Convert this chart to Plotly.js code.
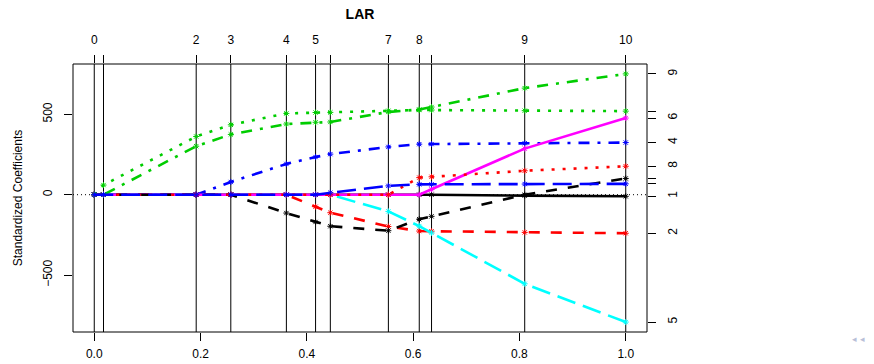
<!DOCTYPE html>
<html>
<head>
<meta charset="utf-8">
<script src="https://cdn.plot.ly/plotly-3.0.1.min.js"></script>
<style>html,body{margin:0;padding:0;background:#fff;}#chart{width:874px;height:364px;}</style>
</head>
<body>
<div id="chart"></div>
<script>
// |beta| / max|beta| at each LAR breakpoint
var stepFraction = [0, 0.0174, 0.1918, 0.2569, 0.3615, 0.4164, 0.4442, 0.5534, 0.6115, 0.6346, 0.8099, 1.0];
// degrees of freedom labels on the top axis (blank where R skipped an overlapping label)
var dfLabels = ['0', '', '2', '3', '4', '5', '', '7', '8', '', '9', '10'];

// standardized coefficients of each variable along the path
var coefAge = [0, 0, 0, 0, 0, 0, 0, 0, 0, 0, -5.72, -10.01];
var coefSex = [0, 0, 0, 0, 0, -74.92, -111.98, -197.76, -226.13, -227.18, -234.40, -239.82];
var coefBmi = [0, 60.12, 361.89, 434.76, 505.66, 511.35, 512.04, 522.26, 526.89, 526.39, 522.65, 519.84];
var coefBp  = [0, 0, 0, 79.24, 191.27, 234.15, 252.53, 297.16, 314.39, 314.95, 320.34, 324.39];
var coefS1  = [0, 0, 0, 0, 0, 0, 0, -103.95, -195.11, -237.34, -554.27, -792.18];
var coefS2  = [0, 0, 0, 0, 0, 0, 0, 0, 0, 33.63, 286.74, 476.75];
var coefS3  = [0, 0, 0, 0, -114.10, -169.71, -196.05, -223.93, -152.48, -134.60, 0, 101.04];
var coefS4  = [0, 0, 0, 0, 0, 0, 0, 0, 106.34, 111.38, 148.90, 177.06];
var coefS5  = [0, 0, 301.78, 374.92, 439.66, 450.67, 452.39, 514.75, 529.92, 545.48, 663.03, 751.28];
var coefS6  = [0, 0, 0, 0, 0, 0, 12.08, 54.77, 64.49, 64.61, 66.34, 67.63];

var varNumbers = ['1', '2', '3', '4', '5', '6', '7', '8', '9', '10'];
var rightLabels = ['1', '2', '', '4', '5', '6', '', '8', '9', ''];
var bottomTicks = [0, 0.2, 0.4, 0.6, 0.8, 1.0];
var bottomLabels = ['0.0', '0.2', '0.4', '0.6', '0.8', '1.0'];
var leftTicks = [-500, 0, 500];
var leftLabels = ['\u2212500', '0', '500'];

var allCoefs = [coefAge, coefSex, coefBmi, coefBp, coefS1, coefS2, coefS3, coefS4, coefS5, coefS6];

// R default matplot colours (1:6) and line types (1:5)
var palette = ['#000000', '#FF0000', '#00CD00', '#0000FF', '#00FFFF', '#FF00FF'];
var lty = ['solid', '11px,11px', '3px,8px', '3px,8px,11px,8px', '19px,8px'];

var font = 'Liberation Sans, Arial, Helvetica, sans-serif';

var traces = allCoefs.map(function (c, i) {
  var col = palette[i % 6];
  return {
    type: 'scatter', mode: 'lines+markers', x: stepFraction, y: c,
    name: 'V' + varNumbers[i], hoverinfo: 'x+y+name',
    line: {color: col, width: 2.6, dash: lty[i % 5]},
    marker: {symbol: 'asterisk-open', size: 5, color: col, line: {color: col, width: 1}}
  };
});
// helper trace so that the top and right axes are drawn
traces.push({type: 'scatter', mode: 'markers', x: [0.5], y: [0], xaxis: 'x2', yaxis: 'y2',
  marker: {opacity: 0}, hoverinfo: 'skip', showlegend: false});

var finals = allCoefs.map(function (c) { return c[c.length - 1]; });

var xr = [-0.04, 1.04];
var yr = [-854, 813];

var shapes = [{type: 'rect', xref: 'paper', yref: 'paper', x0: 0, x1: 1, y0: 0, y1: 1,
  line: {color: '#000', width: 1}}];
stepFraction.forEach(function (s) {
  shapes.push({type: 'line', xref: 'x', yref: 'paper', x0: s, x1: s, y0: 0, y1: 1,
    line: {color: '#000', width: 1}, layer: 'below'});
});
shapes.push({type: 'line', xref: 'paper', yref: 'y', x0: 0, x1: 1, y0: 0, y1: 0,
  line: {color: '#000', width: 1, dash: '1px,3px'}, layer: 'below'});

var axisCommon = {showgrid: false, zeroline: false, ticks: 'outside', ticklen: 8, tickwidth: 1,
  tickcolor: '#000', showline: false, tickfont: {family: font, size: 12, color: '#000'}};

var layout = {
  width: 874, height: 364,
  margin: {l: 73, r: 227, t: 64, b: 32, pad: 0},
  paper_bgcolor: '#fff', plot_bgcolor: '#fff',
  showlegend: false,
  font: {family: font, size: 12, color: '#000'},
  title: {text: '<b>LAR</b>', font: {family: font, size: 14, color: '#000'},
    xref: 'paper', x: 0.5, xanchor: 'center', yref: 'container', y: 1 - 14 / 364, yanchor: 'middle'},
  xaxis: Object.assign({}, axisCommon, {range: xr, tickmode: 'array', tickvals: bottomTicks,
    ticktext: bottomLabels, ticklabelstandoff: 3}),
  xaxis2: Object.assign({}, axisCommon, {range: xr, overlaying: 'x', side: 'top', anchor: 'y',
    tickmode: 'array', tickvals: stepFraction, ticktext: dfLabels, ticklabelstandoff: 6}),
  yaxis: Object.assign({}, axisCommon, {range: yr, tickmode: 'array', tickvals: leftTicks,
    ticktext: leftLabels, tickangle: -90, ticklabelstandoff: 7,
    title: {text: 'Standardized Coefficients', font: {family: font, size: 12, color: '#000'}, standoff: 16}}),
  yaxis2: Object.assign({}, axisCommon, {range: yr, overlaying: 'y', side: 'right', anchor: 'x',
    tickmode: 'array', tickvals: finals, ticktext: rightLabels, tickangle: -90, ticklabelstandoff: 7}),
  shapes: shapes,
  annotations: [{text: '\u25C2 \u25C2', xref: 'paper', yref: 'paper', x: 1, y: 0, xshift: 220, yshift: -14,
    showarrow: false, font: {size: 9, color: '#b8c0d8'}}]
};

Plotly.newPlot('chart', traces, layout, {displayModeBar: false, staticPlot: true});
</script>
</body>
</html>
